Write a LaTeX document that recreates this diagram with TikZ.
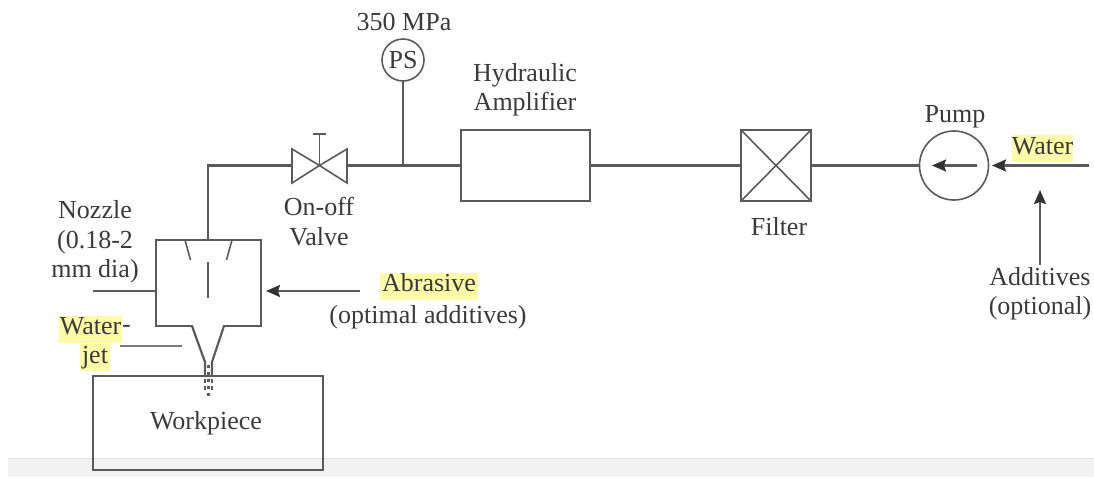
\documentclass[tikz,border=0pt]{standalone}
\usepackage{fontspec}
\setmainfont{Liberation Serif}
\usetikzlibrary{arrows.meta}
\definecolor{ink}{HTML}{5A5A5A}
\definecolor{txt}{HTML}{3A3A3A}
\definecolor{hl}{HTML}{FDFBA8}
\definecolor{band}{HTML}{F2F2F2}
\definecolor{bandline}{HTML}{E2E2E2}
\tikzset{
  line/.style={draw=ink,line width=2.2pt},
  thin line/.style={draw=ink,line width=1.6pt},
  flow/.style={line,-{Stealth[length=14pt,width=12pt,inset=2pt,color=black!80]}},
  boxnode/.style={draw=ink,line width=1.8pt,inner sep=0pt,outer sep=0pt,rectangle},
  round node/.style={draw=ink,line width=1.6pt,circle,inner sep=0pt,outer sep=0pt},
  label text/.style={text=txt,align=center,inner sep=0pt,font=\fontsize{26}{29.5}\selectfont},
  hilite/.style={label text,fill=hl,text height=19pt,text depth=8pt},
}
\begin{document}
\begin{tikzpicture}[x=1pt,y=-1pt]
\useasboundingbox (0,0) rectangle (1094,477);
% page band at the bottom
\fill[band] (8,458) rectangle (1094,477);
\draw[bandline,line width=1pt] (8,458) -- (1094,458);

% labelled equipment
\node[boxnode,minimum width=105pt,minimum height=86pt] (noz) at (208.5,283) {};
\node[boxnode,minimum width=230pt,minimum height=94pt] (work) at (208,423) {};
\node[boxnode,minimum width=129pt,minimum height=71pt] (amp) at (525.5,165.5) {};
\node[boxnode,minimum width=70pt,minimum height=71pt] (filter) at (776,165.5) {};
\node[round node,minimum size=69pt] (pump) at (954,165.5) {};
\node[round node,minimum size=42pt,label text,draw=ink] (ps) at (403,60) {PS};

% filter cross
\draw[thin line] (filter.north west) -- (filter.south east);
\draw[thin line] (filter.north east) -- (filter.south west);

% valve
\coordinate (vc) at (319.5,165.5);
\coordinate (vl) at (292,165.5);
\coordinate (vr) at (347,165.5);
\coordinate (tee) at (403,165.5);
\coordinate (stem) at (319.5,134);
\draw[thin line,line join=miter] (vc) -- (292,149) -- (292,183) -- cycle;
\draw[thin line,line join=miter] (vc) -- (347,149) -- (347,183) -- cycle;
\draw[thin line] (vc) -- (stem);
\draw[thin line] (313,134) -- (326,134);

% pipework
\coordinate (nozin) at (208,240);
\draw[line] (nozin) -- (208,165.5) -- (vl);
\draw[line] (vr) -- (amp.west);
\draw[line] (tee) -- (ps.south);
\draw[line] (amp.east) -- (filter.west);
\draw[line] (filter.east) -- (pump.west);

% pump arrows
\coordinate (pin) at (977,165.5);
\coordinate (pout) at (932,165.5);
\draw[flow] (pin) -- (pout);
\coordinate (wsrc) at (1089,165.5);
\coordinate (wtip) at (992,165.5);
\draw[flow] (wsrc) -- (wtip);
\coordinate (addsrc) at (1040,265);
\coordinate (addtip) at (1040,190);
\draw[flow] (addsrc) -- (addtip);

% nozzle internals
\draw[thin line] (185,240) -- (190.5,260);
\draw[thin line] (232,240) -- (226.5,260);
\draw[thin line] (208,262) -- (208,298);
\fill[white] (193,325) rectangle (223,328);
\draw[line] (192,326) -- (205,362) -- (205,372);
\draw[line] (224,326) -- (212,362) -- (212,372);
% water jet
\draw[line,dash pattern=on 4pt off 3pt] (205,372) -- (205,392);
\draw[line,dash pattern=on 4pt off 3pt] (212,372) -- (212,392);
\draw[line,dash pattern=on 3pt off 4pt] (208.5,365) -- (208.5,399);

% leader lines
\coordinate (nozlead) at (93,291);
\draw[line] (nozlead) -- (noz.west |- nozlead);
\coordinate (jetlead) at (120,346);
\coordinate (jetend) at (182,346);
\draw[thin line,draw=ink!80] (jetlead) -- (jetend);
\coordinate (absrc) at (360,291);
\coordinate (abtip) at (266,291);
\draw[flow] (absrc) -- (abtip);

% labels
\node[label text] (t350) at (404,22) {350 MPa};
\node[label text] (thyd) at (525,89.5) {Hydraulic\\Amplifier};
\node[label text] (tonoff) at (319,221.5) {On-off\\Valve};
\node[label text] (tfilter) at (779,226.5) {Filter};
\node[label text] (tpump) at (955,116.5) {Pump};
\node[hilite,minimum width=61pt] (twater) at (1042.5,148.5) {Water};
\node[label text] (tadd) at (1040,293.5) {Additives\\(optional)};
\node[label text] (tnoz) at (95,242) {Nozzle\\(0.18-2\\mm dia)};
\node[hilite,minimum width=98pt] (tab) at (429,286) {Abrasive};
\node[label text] (topt) at (428,317) {(optimal additives)};
\node[hilite,minimum width=63pt] (tw) at (90.5,329) {Water};
\node[label text,anchor=west] (tdash) at (122,329) {-};
\node[hilite,minimum width=30pt] (tjet) at (95,357.5) {jet};
\node[label text] (twork) at (206,423) {Workpiece};
\end{tikzpicture}
\end{document}
